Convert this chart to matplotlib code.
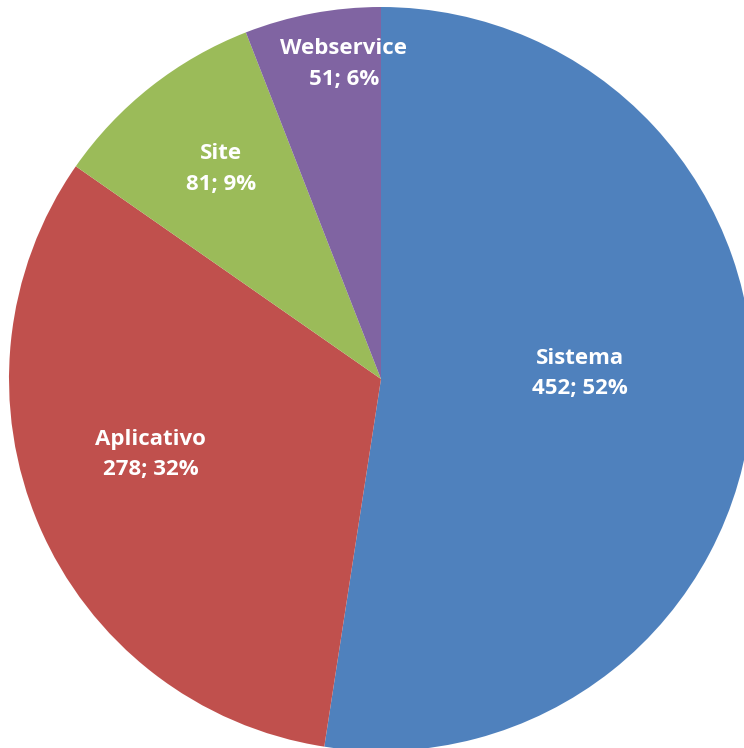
import matplotlib.pyplot as plt
import numpy as np

categories = ['Sistema', 'Aplicativo', 'Site', 'Webservice']
counts = [452, 278, 81, 51]
colors = ['#4F81BD', '#C0504D', '#9BBB59', '#8064A2']

# label placement (fraction of radius) and small angular nudges, in degrees
label_dist = [0.535, 0.65, 0.715, 0.86]
label_nudge = [6.7, -5.6, -1.3, -4.0]

fig = plt.figure(figsize=(7.44, 7.48), dpi=100)
ax = fig.add_axes([0, 0, 1, 1])

R = 372.0
cx, cy = 381.0, 379.0
wedges, _ = ax.pie(counts, colors=colors, startangle=90, counterclock=False,
                   radius=1.0, wedgeprops=dict(linewidth=0))

total = sum(counts)
for w, name, n, d, nd in zip(wedges, categories, counts, label_dist, label_nudge):
    mid = np.deg2rad((w.theta1 + w.theta2) / 2 + nd)
    x, y = d * np.cos(mid), d * np.sin(mid) - 2.5 / R
    pct = round(100 * n / total)
    ax.text(x, y, f'{name}\n{n}; {pct}%', ha='center', va='center',
            color='white', fontsize=16, fontweight='bold', family='Open Sans',
            linespacing=1.6)

ax.set_xlim(-cx / R, (744 - cx) / R)
ax.set_ylim(-(748 - cy) / R, cy / R)
ax.set_aspect('auto')
ax.axis('off')

fig.savefig('out.png', dpi=100)
